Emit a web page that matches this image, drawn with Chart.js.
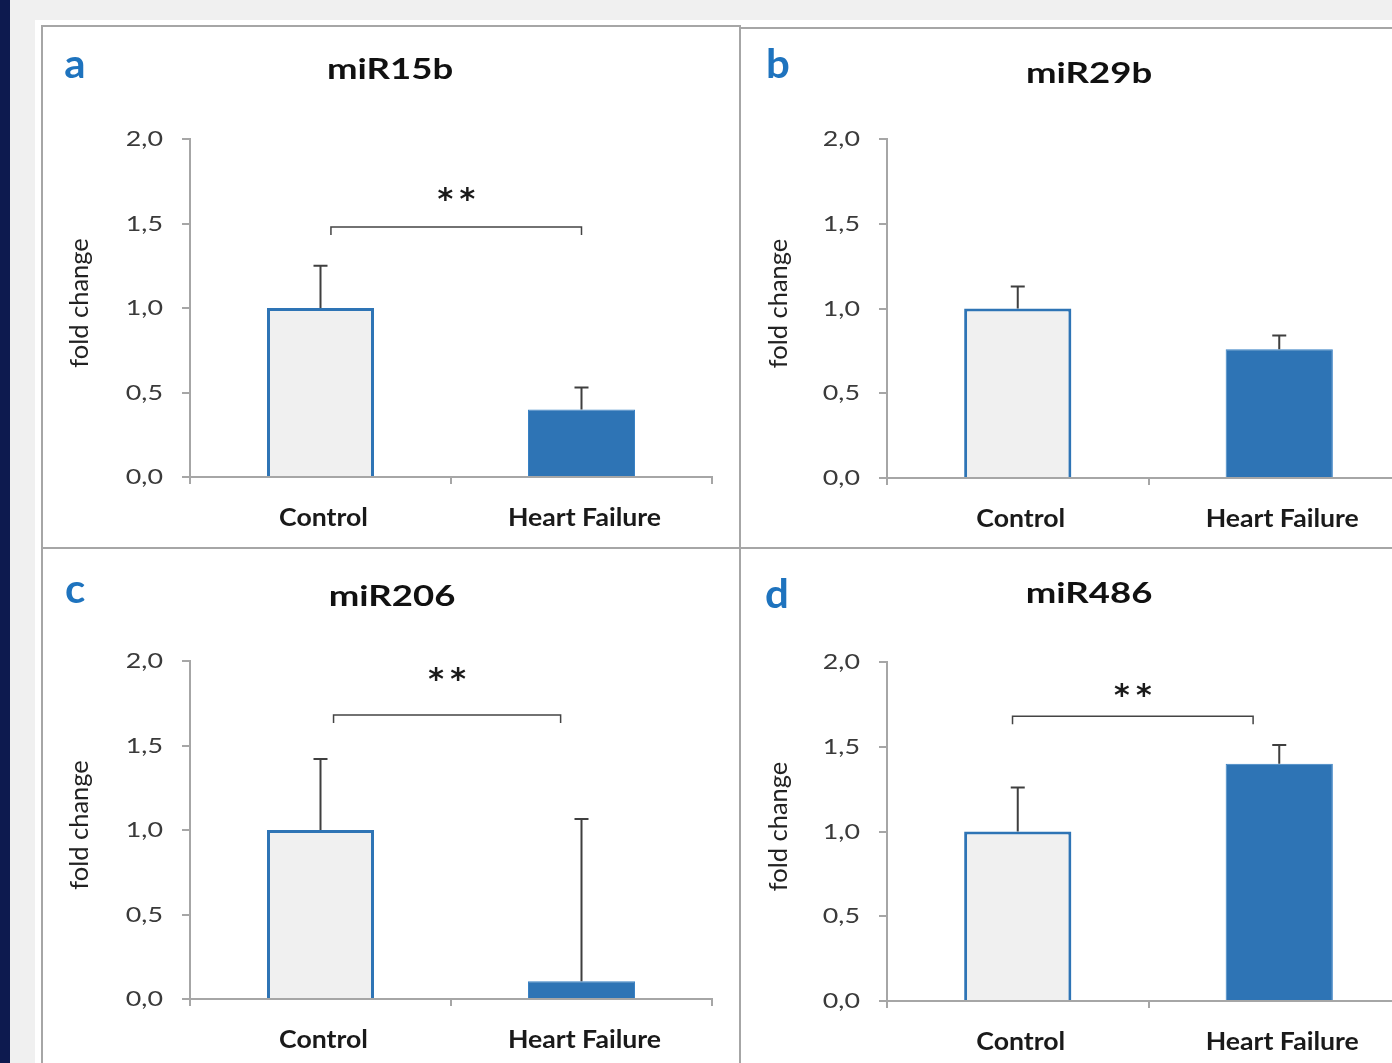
<!DOCTYPE html>
<html>
<head>
<meta charset="utf-8">
<script src="https://cdn.jsdelivr.net/npm/chart.js@4.4.1/dist/chart.umd.min.js"></script>
<style>
  html, body { margin: 0; padding: 0; }
  body { width: 1392px; height: 1063px; overflow: hidden; position: relative; background: #f0f0f0; }
  #stripe { position: absolute; left: 0; top: 0; width: 10px; height: 1063px; background: #0d1a4f; }
  #sheet { position: absolute; left: 35px; top: 20px; width: 1400px; height: 1100px; background: #fff; }
  .line { position: absolute; background: #a6a6a6; }
  .panel { position: absolute; }
</style>
</head>
<body>
<div id="stripe"></div>
<div id="sheet"></div>
<!-- bordures des panneaux -->
<div class="line" style="left:41px;top:25px;width:699px;height:2px;"></div>
<div class="line" style="left:740px;top:27px;width:700px;height:2px;"></div>
<div class="line" style="left:41px;top:25px;width:2px;height:1100px;"></div>
<div class="line" style="left:739px;top:25px;width:2px;height:1100px;"></div>
<div class="line" style="left:41px;top:547px;width:1400px;height:2px;"></div>

<div class="panel" style="left:41px;top:25px;"><canvas id="c0" width="699" height="523"></canvas></div>
<div class="panel" style="left:740px;top:27px;"><canvas id="c1" width="699" height="521"></canvas></div>
<div class="panel" style="left:41px;top:548px;"><canvas id="c2" width="699" height="515"></canvas></div>
<div class="panel" style="left:740px;top:548px;"><canvas id="c3" width="699" height="515"></canvas></div>

<script>
// données
const categories = ["Control", "Heart Failure"];
const panelLetters = ["a", "b", "c", "d"];
const titles = ["miR15b", "miR29b", "miR206", "miR486"];
const meanValues = [
  [1.0, 0.40],
  [1.0, 0.76],
  [1.0, 0.105],
  [1.0, 1.40],
];
const errorTops = [
  [1.25, 0.53],
  [1.13, 0.84],
  [1.42, 1.065],
  [1.26, 1.51],
];
const bracketLevels = [1.48, null, 1.68, 1.68]; // ** significativite
const bracketEnds = [[0.04, 1.0], null, [0.05, 0.92], [-0.02, 0.9]];
const starLevels = [1.68, null, 1.93, 1.84];
const yTicks = [0, 0.5, 1.0, 1.5, 2.0];

// mise en page de chaque panneau (pixels dans le canvas)
const layouts = [
  { left: 149, top: 114, right: 671, bottom: 452, h: 523, letter: [34, 40], title: [349, 45] },
  { left: 147, top: 112, right: 670, bottom: 451, h: 521, letter: [38, 38], title: [349, 47] },
  { left: 149, top: 113, right: 671, bottom: 451, h: 515, letter: [34, 42], title: [351, 49] },
  { left: 147, top: 114, right: 670, bottom: 453, h: 515, letter: [37, 47], title: [349, 46] },
];

const FONT = "Lato, 'Open Sans', sans-serif";
const BLUE = "#2e74b5";

// texte étiré horizontalement (la figure d'origine est étirée)
function stretchText(ctx, text, x, y, font, sx, align, color) {
  ctx.save();
  ctx.translate(x, y);
  ctx.scale(sx, 1);
  ctx.font = font;
  ctx.textAlign = align;
  ctx.textBaseline = "middle";
  ctx.fillStyle = color;
  ctx.fillText(text, 0, 0);
  ctx.restore();
}

const decorPlugin = {
  id: "decor",
  afterDatasetsDraw(chart, args, opts) {
    const ctx = chart.ctx;
    const i = opts.idx;
    const xs = chart.scales.x, ys = chart.scales.y;
    const meta = chart.getDatasetMeta(0);
    const area = chart.chartArea;
    ctx.save();
    // barres d'erreur
    ctx.strokeStyle = "#3f3f3f";
    ctx.lineWidth = 2;
    meta.data.forEach((bar, j) => {
      const yb = ys.getPixelForValue(meanValues[i][j]);
      const ye = ys.getPixelForValue(errorTops[i][j]);
      ctx.beginPath();
      ctx.moveTo(bar.x, yb);
      ctx.lineTo(bar.x, ye);
      ctx.moveTo(bar.x - 7, ye);
      ctx.lineTo(bar.x + 7, ye);
      ctx.stroke();
    });
    // crochet + etoiles
    if (bracketLevels[i] !== null) {
      const x1 = xs.getPixelForValue(bracketEnds[i][0]);
      const x2 = xs.getPixelForValue(bracketEnds[i][1]);
      const yb = ys.getPixelForValue(bracketLevels[i]);
      ctx.lineWidth = 1.5;
      ctx.strokeStyle = "#444";
      ctx.beginPath();
      ctx.moveTo(x1, yb + 8);
      ctx.lineTo(x1, yb);
      ctx.lineTo(x2, yb);
      ctx.lineTo(x2, yb + 8);
      ctx.stroke();
      const xm = (x1 + x2) / 2, ysS = ys.getPixelForValue(starLevels[i]) + 8;
      stretchText(ctx, "*", xm - 11, ysS, "bold 30px 'DejaVu Sans'", 1, "center", "#1a1a1a");
      stretchText(ctx, "*", xm + 11, ysS, "bold 30px 'DejaVu Sans'", 1, "center", "#1a1a1a");
    }
    // étiquettes des axes
    yTicks.forEach(v => {
      stretchText(ctx, v.toFixed(1).replace(".", ","), area.left - 27, ys.getPixelForValue(v),
        "22px " + FONT, 1.22, "right", "#3a3a3a");
    });
    categories.forEach((c, j) => {
      stretchText(ctx, c, xs.getPixelForValue(j) + 3, area.bottom + 41,
        "bold 24px " + FONT, 1.11, "center", "#1a1a1a");
    });
    // titre de l'axe y (vertical)
    ctx.save();
    ctx.translate(39, (area.top + area.bottom) / 2 - 5);
    ctx.rotate(-Math.PI / 2);
    ctx.font = "25.5px " + FONT;
    ctx.textAlign = "center";
    ctx.textBaseline = "middle";
    ctx.fillStyle = "#222";
    ctx.fillText("fold change", 0, 0);
    ctx.restore();
    // lettre et titre
    const L = layouts[i];
    stretchText(ctx, panelLetters[i], L.letter[0], L.letter[1], "bold 40px " + FONT, 1.05, "center", "#1e73be");
    stretchText(ctx, titles[i], L.title[0], L.title[1], "bold 29px " + FONT, 1.26, "center", "#111");
    ctx.restore();
  },
};

function makeChart(i) {
  const L = layouts[i];
  const ctx = document.getElementById("c" + i).getContext("2d");
  return new Chart(ctx, {
    type: "bar",
    data: {
      labels: categories,
      datasets: [{
        data: meanValues[i],
        backgroundColor: ["#f0f0f0", BLUE],
        borderColor: [BLUE, "#3a82c4"],
        borderWidth: [3, 1],
        barPercentage: 0.41,
        categoryPercentage: 1,
      }],
    },
    options: {
      responsive: false,
      animation: false,
      events: [],
      layout: {
        padding: { left: 0, top: L.top, right: 699 - L.right, bottom: L.h - L.bottom - 50 },
      },
      plugins: { legend: { display: false }, tooltip: { enabled: false }, decor: { idx: i } },
      scales: {
        x: {
          afterFit(scale) { scale.height = 50; },
          grid: { offset: true, drawOnChartArea: false, drawTicks: true, tickLength: 7, color: "#a6a6a6", lineWidth: 2 },
          border: { color: "#a6a6a6", width: 2 },
          ticks: { display: false },
        },
        y: {
          min: 0,
          max: 2,
          afterFit(scale) { scale.width = L.left; },
          afterBuildTicks(scale) { scale.ticks = yTicks.map(v => ({ value: v })); },
          grid: { drawOnChartArea: false, drawTicks: true, tickLength: 8, color: "#a6a6a6", lineWidth: 2 },
          border: { color: "#a6a6a6", width: 2 },
          ticks: { display: false },
        },
      },
    },
    plugins: [decorPlugin],
  });
}

for (let i = 0; i < 4; i++) makeChart(i);
</script>
</body>
</html>
